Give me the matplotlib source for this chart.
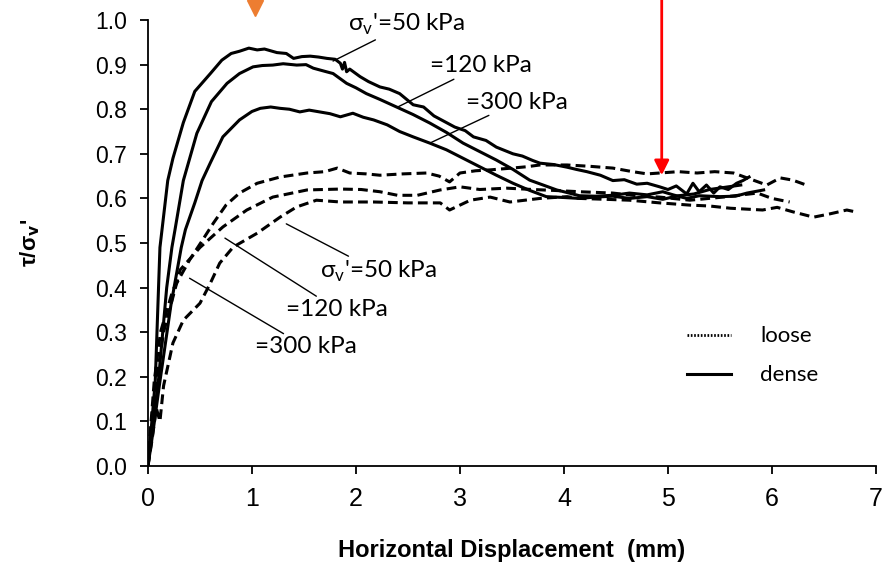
import matplotlib
matplotlib.use("Agg")
import matplotlib.pyplot as plt
from matplotlib.lines import Line2D

# ---------------- data ----------------
dense_50_x = [0, 0.03, 0.07, 0.115, 0.19, 0.24, 0.34, 0.45, 0.60, 0.71, 0.80, 0.88, 0.97, 1.05, 1.12, 1.24,
              1.33, 1.40, 1.48, 1.56, 1.64, 1.72, 1.80, 1.85, 1.87, 1.89, 1.91, 1.94, 2.04, 2.12, 2.23, 2.32,
              2.42, 2.55, 2.65, 2.75, 2.87, 2.95, 3.05, 3.13, 3.25, 3.35, 3.51, 3.60, 3.70, 3.77, 3.90, 4.03,
              4.12, 4.22, 4.35, 4.47, 4.58, 4.70, 4.80, 4.92, 5.00, 5.08, 5.18, 5.24, 5.30, 5.37, 5.44, 5.50,
              5.58, 5.66, 5.72, 5.78]
dense_50_y = [0, 0.08, 0.19, 0.49, 0.64, 0.69, 0.77, 0.84, 0.88, 0.91, 0.925, 0.93, 0.937, 0.933, 0.935, 0.927,
              0.925, 0.914, 0.918, 0.919, 0.917, 0.914, 0.912, 0.903, 0.89, 0.905, 0.884, 0.89, 0.873, 0.862, 0.85, 0.845,
              0.835, 0.81, 0.805, 0.785, 0.77, 0.76, 0.752, 0.738, 0.73, 0.715, 0.70, 0.695, 0.685, 0.679, 0.676, 0.67,
              0.665, 0.66, 0.652, 0.64, 0.642, 0.632, 0.634, 0.626, 0.62, 0.628, 0.61, 0.634, 0.615, 0.63, 0.612, 0.626,
              0.62, 0.634, 0.64, 0.648]

dense_120_x = [0, 0.04, 0.10, 0.18, 0.23, 0.26, 0.34, 0.47, 0.61, 0.76, 0.88, 1.01, 1.10, 1.20, 1.30, 1.43,
               1.52, 1.59, 1.70, 1.78, 1.91, 2.00, 2.10, 2.23, 2.39, 2.55, 2.71, 2.87, 3.03, 3.19, 3.35, 3.51,
               3.67, 3.80, 3.93, 4.05, 4.15, 4.30, 4.47, 4.63, 4.80, 4.95, 5.05, 5.18, 5.30, 5.50, 5.65, 5.76, 5.92]
dense_120_y = [0, 0.08, 0.19, 0.40, 0.49, 0.53, 0.64, 0.746, 0.817, 0.858, 0.88, 0.895, 0.898, 0.899, 0.902, 0.899,
               0.900, 0.892, 0.885, 0.88, 0.858, 0.848, 0.835, 0.822, 0.805, 0.788, 0.769, 0.748, 0.724, 0.705, 0.686, 0.665,
               0.641, 0.63, 0.619, 0.612, 0.606, 0.605, 0.607, 0.612, 0.608, 0.615, 0.608, 0.60, 0.606, 0.604, 0.605, 0.612, 0.619]

dense_300_x = [0, 0.05, 0.115, 0.22, 0.32, 0.36, 0.45, 0.52, 0.60, 0.72, 0.88, 1.00, 1.08, 1.18, 1.27, 1.36,
               1.46, 1.55, 1.65, 1.75, 1.85, 1.97, 2.07, 2.17, 2.30, 2.42, 2.55, 2.71, 2.87, 3.03, 3.19, 3.35,
               3.51, 3.67, 3.83, 4.00, 4.15, 4.30, 4.47, 4.63, 4.80, 4.95, 5.10, 5.25, 5.40, 5.55, 5.70]
dense_300_y = [0, 0.08, 0.19, 0.36, 0.49, 0.53, 0.59, 0.64, 0.68, 0.738, 0.776, 0.795, 0.802, 0.805, 0.802, 0.80,
               0.794, 0.798, 0.794, 0.79, 0.783, 0.791, 0.782, 0.776, 0.765, 0.75, 0.738, 0.724, 0.709, 0.69, 0.671, 0.652,
               0.634, 0.618, 0.604, 0.602, 0.60, 0.603, 0.605, 0.60, 0.604, 0.598, 0.606, 0.61, 0.62, 0.625, 0.63]

loose_50_x = [0, 0.03, 0.06, 0.12, 0.24, 0.40, 0.52, 0.63, 0.75, 0.88, 1.05, 1.27, 1.53, 1.70, 1.82, 1.94,
              2.10, 2.23, 2.45, 2.68, 2.80, 2.90, 3.00, 3.15, 3.29, 3.50, 3.64, 3.77, 4.03, 4.25, 4.47, 4.66,
              4.80, 4.92, 5.10, 5.28, 5.45, 5.63, 5.82, 5.95, 6.08, 6.20, 6.33]
loose_50_y = [0, 0.10, 0.19, 0.30, 0.395, 0.462, 0.505, 0.545, 0.585, 0.612, 0.634, 0.648, 0.657, 0.66, 0.668, 0.657,
              0.655, 0.652, 0.655, 0.657, 0.65, 0.637, 0.657, 0.662, 0.664, 0.668, 0.671, 0.675, 0.675, 0.672, 0.668, 0.66,
              0.655, 0.657, 0.66, 0.657, 0.66, 0.657, 0.641, 0.63, 0.646, 0.641, 0.63]

loose_120_x = [0, 0.03, 0.08, 0.15, 0.31, 0.50, 0.72, 0.95, 1.20, 1.53, 1.85, 2.05, 2.23, 2.40, 2.59, 2.81,
               3.00, 3.19, 3.45, 3.70, 3.90, 4.15, 4.47, 4.70, 4.92, 5.21, 5.53, 5.86, 6.00, 6.17]
loose_120_y = [0, 0.09, 0.19, 0.30, 0.44, 0.49, 0.536, 0.574, 0.603, 0.619, 0.621, 0.62, 0.615, 0.607, 0.607, 0.619,
               0.626, 0.62, 0.623, 0.62, 0.618, 0.615, 0.612, 0.606, 0.603, 0.596, 0.603, 0.612, 0.60, 0.592]

loose_300_x = [0, 0.04, 0.08, 0.115, 0.15, 0.24, 0.34, 0.50, 0.60, 0.69, 0.82, 1.05, 1.27, 1.43, 1.62, 1.85,
               2.17, 2.50, 2.81, 2.90, 3.10, 3.29, 3.48, 3.77, 4.03, 4.15, 4.40, 4.63, 4.92, 5.21, 5.40, 5.60,
               5.91, 6.05, 6.20, 6.40, 6.55, 6.72, 6.80]
loose_300_y = [0, 0.06, 0.13, 0.10, 0.18, 0.276, 0.327, 0.365, 0.41, 0.455, 0.491, 0.522, 0.558, 0.581, 0.596, 0.592,
               0.592, 0.59, 0.59, 0.574, 0.596, 0.603, 0.592, 0.60, 0.604, 0.60, 0.598, 0.596, 0.59, 0.585, 0.583, 0.578,
               0.574, 0.58, 0.57, 0.558, 0.565, 0.574, 0.57]

x_ticks = [0, 1, 2, 3, 4, 5, 6, 7]
y_ticks = [0.0, 0.1, 0.2, 0.3, 0.4, 0.5, 0.6, 0.7, 0.8, 0.9, 1.0]
y_tick_labels = ["0.0", "0.1", "0.2", "0.3", "0.4", "0.5", "0.6", "0.7", "0.8", "0.9", "1.0"]

dense_labels = ["\u03c3$_\\mathregular{v}$'=50 kPa", "=120 kPa", "=300 kPa"]
loose_labels = ["\u03c3$_\\mathregular{v}$'=50 kPa", "=120 kPa", "=300 kPa"]
legend_labels = ["loose", "dense"]

# ---------------- style ----------------
plt.rcParams['mathtext.fontset'] = 'custom'
plt.rcParams['mathtext.rm'] = 'Lato'
plt.rcParams['font.family'] = ['Lato', 'Open Sans', 'DejaVu Sans']

ANN_FONT = ['Lato', 'Open Sans', 'DejaVu Sans']
TICK_FONT = ['Liberation Sans', 'DejaVu Sans']

fig = plt.figure(figsize=(8.84, 5.69), dpi=100)
ax = fig.add_axes([0.1674, 0.181, 0.8235, 0.7838])

LW = 2.2
DASH = (0, (3.2, 1.7))
for xs, ys in [(dense_50_x, dense_50_y), (dense_120_x, dense_120_y), (dense_300_x, dense_300_y)]:
    ax.plot(xs, ys, color='black', lw=LW, solid_joinstyle='round')
for xs, ys in [(loose_50_x, loose_50_y), (loose_120_x, loose_120_y), (loose_300_x, loose_300_y)]:
    ax.plot(xs, ys, color='black', lw=LW, linestyle=DASH)

ax.set_xlim(0, 7)
ax.set_ylim(0, 1.0)
ax.set_xticks(x_ticks)
ax.set_yticks(y_ticks)
ax.set_yticklabels(y_tick_labels)
for s in ['top', 'right']:
    ax.spines[s].set_visible(False)
for s in ['left', 'bottom']:
    ax.spines[s].set_linewidth(1.3)
ax.tick_params(axis='both', direction='out', length=6, width=1.3, color='black')
ax.tick_params(axis='y', pad=9)
ax.tick_params(axis='x', pad=9)
for lab in ax.get_yticklabels():
    lab.set_fontfamily(TICK_FONT)
    lab.set_fontsize(16.5)
for lab in ax.get_xticklabels():
    lab.set_fontfamily(TICK_FONT)
    lab.set_fontsize(18)

ax.set_xlabel("Horizontal Displacement  (mm)", fontsize=17, fontweight='bold',
              family=TICK_FONT, labelpad=20)
ax.set_ylabel("\u03c4/\u03c3$_\\mathbf{v}$'", fontsize=16, fontweight='bold',
              family=TICK_FONT, labelpad=38)

# ---------------- annotations (dense) ----------------
ann_kw = dict(fontsize=17.5, family=ANN_FONT, va='center', ha='left',
              arrowprops=dict(arrowstyle='-', color='black', lw=1.0, shrinkA=0, shrinkB=0))
ax.annotate(dense_labels[0], xy=(1.78, 0.908), xytext=(1.92, 0.99), **ann_kw)
ax.annotate(dense_labels[1], xy=(2.41, 0.806), xytext=(2.71, 0.897), **ann_kw)
ax.annotate(dense_labels[2], xy=(2.71, 0.724), xytext=(3.06, 0.816), **ann_kw)

# ---------------- annotations (loose) ----------------
ax.annotate(loose_labels[0], xy=(1.33, 0.543), xytext=(1.65, 0.436), **ann_kw)
ax.annotate(loose_labels[1], xy=(0.74, 0.511), xytext=(1.33, 0.351), **ann_kw)
ax.annotate(loose_labels[2], xy=(0.40, 0.421), xytext=(1.03, 0.267), **ann_kw)

# ---------------- legend ----------------
handles = [Line2D([], [], color='black', lw=2.0, linestyle=(0, (0.6, 0.6))),
           Line2D([], [], color='black', lw=2.2, linestyle='-')]
ax.legend(handles, legend_labels, loc='upper left', bbox_to_anchor=(0.74, 0.313),
          frameon=False, prop={'family': ANN_FONT, 'size': 16},
          handlelength=2.0, handletextpad=1.3, labelspacing=0.85, borderpad=0, borderaxespad=0)

# ---------------- markers above the axes ----------------
ax.plot([1.03], [1.028], marker='v', color='#ED7D31', markersize=12, clip_on=False, linestyle='none')
ax.annotate('', xy=(4.94, 0.652), xytext=(4.94, 1.06), annotation_clip=False,
            arrowprops=dict(arrowstyle='-|>', color='#FF0000', lw=2.0, mutation_scale=22,
                            shrinkA=0, shrinkB=0))

fig.savefig('out.png', dpi=100)
